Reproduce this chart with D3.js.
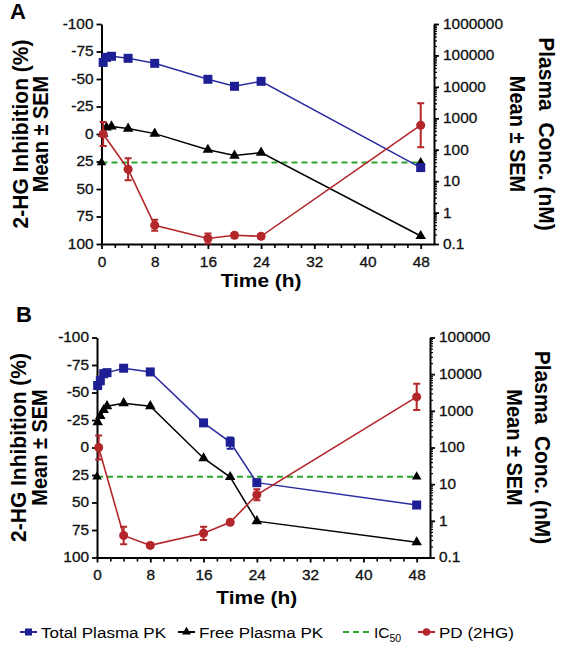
<!DOCTYPE html>
<html><head><meta charset="utf-8">
<script src="https://cdn.jsdelivr.net/npm/d3@7"></script>
<style>
body{margin:0;background:#fff;}
svg{display:block;font-family:"Liberation Sans",Arial,sans-serif;}
</style></head><body>
<svg id="chart" width="563" height="651"></svg>
<script>
// ---------- data ----------
const timesA_PK = [0.25, 0.75, 1.5, 4, 8, 16, 20, 24, 48];
const totalA = [60000, 87000, 94000, 81000, 56000, 17400, 10400, 15000, 27];
const freeA = [325, 510, 550, 470, 325, 100, 65, 81, 0.18];
const timesA_PD = [0.25, 4, 8, 16, 20, 24, 48];
const pdA = [0, 32, 83, 95, 92, 93, -8];
const pdA_sem = [11, 10, 5, 4.5, 2, 2, 20];
const ic50A = 39;

const timesB_PK = [0.1, 0.5, 1, 1.5, 4, 8, 16, 20, 24, 48];
const totalB = [4900, 6600, 10300, 11000, 14500, 11500, 470, 140, 11, 2.7];
const totalB_sem = [0, 0, 0, 0, 0, 0, 0, 47, 0, 0];
const freeB = [490, 720, 1050, 1340, 1620, 1340, 51, 15.6, 0.98, 0.26];
const timesB_PD = [0.25, 4, 8, 16, 20, 24, 48];
const pdB = [0, 80, 89, 78, 68, 43, -46];
const pdB_sem = [11, 8, 2, 6, 2, 5, 12];
const ic50B = 16;

const ic50Times = [0, 48];
const leftTicks = [-100, -75, -50, -25, 0, 25, 50, 75, 100];
const xTicks = [0, 8, 16, 24, 32, 40, 48];
const rightTicksA = [0.1, 1, 10, 100, 1000, 10000, 100000, 1000000];
const rightTicksB = [0.1, 1, 10, 100, 1000, 10000, 100000];
const seriesNames = ["Total Plasma PK", "Free Plasma PK", "IC", "PD (2HG)"];
const leftTitle = ["2-HG Inhibition (%)", "Mean \u00b1 SEM"];
const rightTitle = ["Plasma\u00a0 Conc. (nM)", "Mean \u00b1 SEM"];
const xTitle = "Time (h)";

// ---------- styles ----------
const C_BLUE = "#1f1f95", C_BLUE_LINE = "#2b2ba0", C_BLACK = "#000", C_RED = "#b3262a", C_GREEN = "#2ca52c";
const STRETCH = 1.1;

const svg = d3.select("#chart");

function stretch(sel) {
  sel.each(function () {
    const L = this.getComputedTextLength();
    if (L > 0) d3.select(this).attr("textLength", L * STRETCH).attr("lengthAdjust", "spacingAndGlyphs");
  });
}

function panel(cfg) {
  const g = svg.append("g");
  const x = d3.scaleLinear().domain([0, 50]).range([cfg.x0, cfg.x1]);
  const yL = d3.scaleLinear().domain([-100, 100]).range([cfg.top, cfg.bottom]);
  const yR = d3.scaleLog().domain([0.1, cfg.rmax]).range([cfg.bottom, cfg.top]);

  // minor x ticks
  const minorX = d3.range(2, 50, 2).filter(d => d % 8 !== 0);
  g.append("g").attr("transform", `translate(0,${cfg.bottom})`)
    .call(d3.axisBottom(x).tickValues(minorX).tickSize(4).tickSizeOuter(0).tickFormat(""))
    .call(s => s.select(".domain").remove())
    .call(s => s.selectAll("line").attr("stroke-width", 1.6));
  // minor right ticks
  const minorR = [];
  for (let e = -1; e < Math.log10(cfg.rmax); e++) for (let k = 2; k <= 9; k++) minorR.push(k * Math.pow(10, e));
  g.append("g").attr("transform", `translate(${cfg.x1},0)`)
    .call(d3.axisRight(yR).tickValues(minorR).tickSize(3).tickSizeOuter(0).tickFormat(""))
    .call(s => s.select(".domain").remove())
    .call(s => s.selectAll("line").attr("stroke-width", 1.2));

  const styleAxis = s => {
    s.select(".domain").attr("stroke-width", 2);
    s.selectAll(".tick line").attr("stroke-width", 1.8);
    s.selectAll("text").attr("font-size", 14).attr("fill", "#111")
      .attr("stroke", "#111").attr("stroke-width", 0.3)
      .attr("font-family", '"Liberation Sans",Arial,sans-serif')
      .call(stretch);
  };
  g.append("g").attr("transform", `translate(0,${cfg.bottom})`)
    .call(d3.axisBottom(x).tickValues(xTicks).tickSize(5).tickPadding(8).tickSizeOuter(0))
    .call(styleAxis);
  g.append("g").attr("transform", `translate(${cfg.x0},0)`)
    .call(d3.axisLeft(yL).tickValues(leftTicks).tickSize(5).tickPadding(3).tickSizeOuter(0).tickFormat(d => String(d)))
    .call(styleAxis);
  g.append("g").attr("transform", `translate(${cfg.x1},0)`)
    .call(d3.axisRight(yR).tickValues(cfg.rticks).tickSize(5).tickPadding(4).tickSizeOuter(0)
      .tickFormat(d => d < 1 ? "0.1" : String(Math.round(d))))
    .call(styleAxis);

  // titles
  const cy = (cfg.top + cfg.bottom) / 2;
  const vt = (tx, rot, size, txt) => g.append("text").attr("transform", `translate(${tx},${cy}) rotate(${rot}) scale(1,1.08)`)
    .attr("dy", "0.35em").attr("text-anchor", "middle").attr("font-weight", "bold").attr("font-size", size).text(txt);
  vt(cfg.lt1, -90, 21, leftTitle[0]);
  vt(cfg.lt2, -90, 20, leftTitle[1]);
  vt(cfg.rt1, 90, 21, rightTitle[0]);
  vt(cfg.rt2, 90, 20, rightTitle[1]);
  g.append("text").attr("x", (cfg.x0 + x(48)) / 2).attr("y", cfg.xty)
    .attr("text-anchor", "middle").attr("font-weight", "bold").attr("font-size", 19).text(xTitle).call(stretch);
  g.append("text").attr("x", cfg.lx).attr("y", cfg.ly)
    .attr("font-weight", "bold").attr("font-size", 22).text(cfg.label);

  const plot = g.append("g");
  // IC50
  const icData = ic50Times.map(t => ({t, v: cfg.ic50}));
  plot.append("path").datum(icData)
    .attr("d", d3.line().x(d => x(d.t)).y(d => yR(d.v)))
    .attr("fill", "none").attr("stroke", C_GREEN).attr("stroke-width", 2).attr("stroke-dasharray", "6,4");
  plot.selectAll(".ict").data(icData).join("path")
    .attr("transform", d => `translate(${x(d.t)},${yR(d.v)})`)
    .attr("d", d3.symbol(d3.symbolTriangle, 40)).attr("fill", C_BLACK);

  // Free PK
  const freeData = cfg.tpk.map((t, i) => ({t, v: cfg.free[i]}));
  plot.append("path").datum(freeData)
    .attr("d", d3.line().x(d => x(d.t)).y(d => yR(d.v)))
    .attr("fill", "none").attr("stroke", C_BLACK).attr("stroke-width", 1.5);
  plot.selectAll(".fr").data(freeData).join("path")
    .attr("transform", d => `translate(${x(d.t)},${yR(d.v)})`)
    .attr("d", d3.symbol(d3.symbolTriangle, 48)).attr("fill", C_BLACK);

  // Total PK
  const totData = cfg.tpk.map((t, i) => ({t, v: cfg.total[i], e: cfg.totalSem ? cfg.totalSem[i] : 0}));
  plot.append("path").datum(totData)
    .attr("d", d3.line().x(d => x(d.t)).y(d => yR(d.v)))
    .attr("fill", "none").attr("stroke", C_BLUE_LINE).attr("stroke-width", 1.5);
  const eb = totData.filter(d => d.e > 0);
  plot.selectAll(".teb").data(eb).join("path")
    .attr("d", d => {
      const xx = x(d.t), y1 = yR(d.v - d.e), y2 = yR(d.v + d.e);
      return `M${xx},${y1}V${y2}M${xx - 3.5},${y1}H${xx + 3.5}M${xx - 3.5},${y2}H${xx + 3.5}`;
    })
    .attr("stroke", C_BLUE).attr("stroke-width", 2).attr("fill", "none");
  plot.selectAll(".ts").data(totData).join("rect")
    .attr("x", d => x(d.t) - 4.5).attr("y", d => yR(d.v) - 4.5).attr("width", 9).attr("height", 9)
    .attr("fill", C_BLUE);

  // PD
  const pdData = cfg.tpd.map((t, i) => ({t, v: cfg.pd[i], e: cfg.pdSem[i]}));
  plot.append("path").datum(pdData)
    .attr("d", d3.line().x(d => x(d.t)).y(d => yL(d.v)))
    .attr("fill", "none").attr("stroke", C_RED).attr("stroke-width", 1.6);
  plot.selectAll(".peb").data(pdData).join("path")
    .attr("d", d => {
      const xx = x(d.t), y1 = yL(d.v - d.e), y2 = yL(d.v + d.e);
      return `M${xx},${y1}V${y2}M${xx - 3.5},${y1}H${xx + 3.5}M${xx - 3.5},${y2}H${xx + 3.5}`;
    })
    .attr("stroke", C_RED).attr("stroke-width", 2).attr("fill", "none");
  plot.selectAll(".pc").data(pdData).join("circle")
    .attr("cx", d => x(d.t)).attr("cy", d => yL(d.v)).attr("r", 4.5).attr("fill", C_RED);
}

panel({label: "A", lx: 10, ly: 19, x0: 101.5, x1: 434, top: 24, bottom: 244, rmax: 1e6, rticks: rightTicksA,
  tpk: timesA_PK, total: totalA, free: freeA, tpd: timesA_PD, pd: pdA, pdSem: pdA_sem, ic50: ic50A,
  lt1: 20, lt2: 40, rt1: 547, rt2: 518, xty: 287});
panel({label: "B", lx: 16, ly: 322, x0: 97, x1: 430, top: 337.5, bottom: 557.5, rmax: 1e5, rticks: rightTicksB,
  tpk: timesB_PK, total: totalB, totalSem: totalB_sem, free: freeB, tpd: timesB_PD, pd: pdB, pdSem: pdB_sem, ic50: ic50B,
  lt1: 18, lt2: 39, rt1: 543, rt2: 515, xty: 604});

// ---------- legend ----------
const leg = svg.append("g").attr("font-size", 15.5);
const ly = 632;
const items = [
  {x: 20, name: seriesNames[0], color: C_BLUE_LINE, mark: "square", dash: null},
  {x: 178, name: seriesNames[1], color: C_BLACK, mark: "tri", dash: null},
  {x: 343, name: seriesNames[2], color: C_GREEN, mark: null, dash: "6,4", w: 27},
  {x: 418, name: seriesNames[3], color: C_RED, mark: "circle", dash: null}
];
items.forEach(it => {
  const w = it.w || 17;
  leg.append("line").attr("x1", it.x).attr("x2", it.x + w).attr("y1", ly).attr("y2", ly)
    .attr("stroke", it.color).attr("stroke-width", 2).attr("stroke-dasharray", it.dash);
  const cx = it.x + w / 2;
  if (it.mark === "square") leg.append("rect").attr("x", cx - 3.5).attr("y", ly - 3.5).attr("width", 7).attr("height", 7).attr("fill", C_BLUE);
  if (it.mark === "tri") leg.append("path").attr("transform", `translate(${cx},${ly})`).attr("d", d3.symbol(d3.symbolTriangle, 35)).attr("fill", C_BLACK);
  if (it.mark === "circle") leg.append("circle").attr("cx", cx).attr("cy", ly).attr("r", 3.8).attr("fill", C_RED);
  const t = leg.append("text").attr("x", it.x + w + 4).attr("y", ly + 6).text(it.name);
  if (it.name === "IC") t.append("tspan").attr("font-size", 10.5).attr("dy", 4).text("50");
  else t.call(stretch);
});
</script>
</body></html>
